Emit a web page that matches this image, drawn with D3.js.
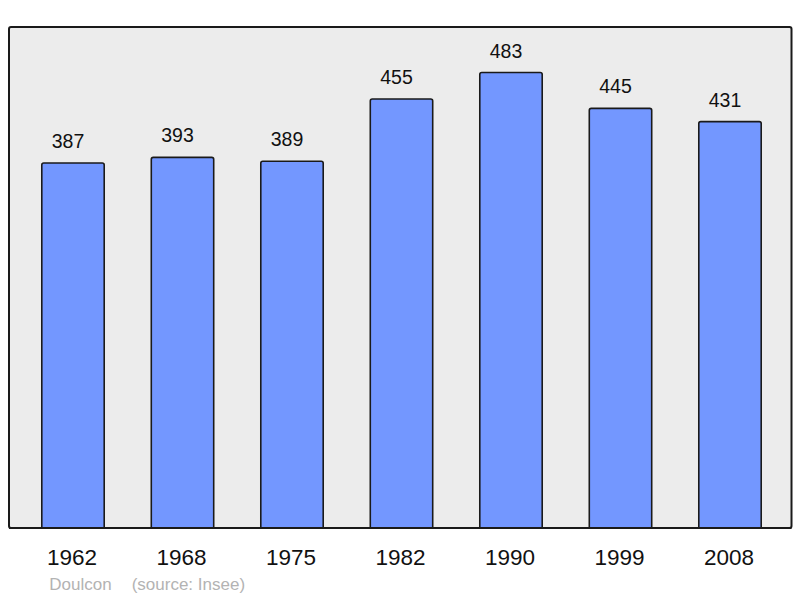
<!DOCTYPE html>
<html><head><meta charset="utf-8">
<script src="https://cdn.jsdelivr.net/npm/d3@7"></script>
<style>body{margin:0;background:#fff}svg{display:block}text{font-family:"Liberation Sans",Arial,sans-serif}</style>
</head><body>
<svg id="c" width="800" height="598"></svg>
<script>
const years = ["1962","1968","1975","1982","1990","1999","2008"];
const population = [387,393,389,455,483,445,431];
const commune = "Doulcon";
const source = "(source: Insee)";

const svg = d3.select("#c");
const panel = {x0: 9, y0: 27, x1: 791.5, y1: 528};

svg.append("rect").attr("x", panel.x0).attr("y", panel.y0)
  .attr("width", panel.x1 - panel.x0).attr("height", panel.y1 - panel.y0)
  .attr("rx", 2).attr("fill", "#ececec").attr("stroke", "#1a1a1a").attr("stroke-width", 2);

const x = d3.scaleBand().domain(years).range([18.25, 784.75]).paddingInner(0.43).paddingOuter(0.215);
const y = d3.scaleLinear().domain([0, d3.max(population) * 1.1]).range([panel.y1, panel.y0]);

const data = years.map((yr, i) => ({year: yr, value: population[i]}));

const clip = svg.append("clipPath").attr("id", "pc").append("rect")
  .attr("x", 0).attr("y", 0).attr("width", 800).attr("height", panel.y1);

svg.append("g").attr("clip-path", "url(#pc)").selectAll("rect").data(data).join("rect")
  .attr("x", d => x(d.year))
  .attr("y", d => y(d.value))
  .attr("width", x.bandwidth())
  .attr("height", d => panel.y1 - y(d.value) + 6)
  .attr("rx", 2)
  .attr("fill", "#7397ff").attr("stroke", "#1a1a1a").attr("stroke-width", 1.6);

// redraw bottom border on top
svg.append("line").attr("x1", panel.x0).attr("x2", panel.x1).attr("y1", panel.y1).attr("y2", panel.y1)
  .attr("stroke", "#1a1a1a").attr("stroke-width", 2);

svg.append("g").selectAll("text").data(data).join("text")
  .attr("x", d => x(d.year) + x.bandwidth() / 2 - 5)
  .attr("y", d => y(d.value) - 15)
  .attr("text-anchor", "middle").attr("font-size", 19.5).attr("fill", "#111")
  .text(d => d.value);

svg.append("g").selectAll("text").data(years).join("text")
  .attr("x", d => x(d) + x.bandwidth() / 2 - 1)
  .attr("y", 564.5)
  .attr("text-anchor", "middle").attr("font-size", 22.5).attr("fill", "#111")
  .text(d => d);

svg.append("text").attr("x", 49.3).attr("y", 590).attr("font-size", 17).attr("fill", "#b3b3b3").text(commune);
svg.append("text").attr("x", 131.7).attr("y", 590).attr("font-size", 17).attr("fill", "#b3b3b3").text(source);
</script>
</body></html>
